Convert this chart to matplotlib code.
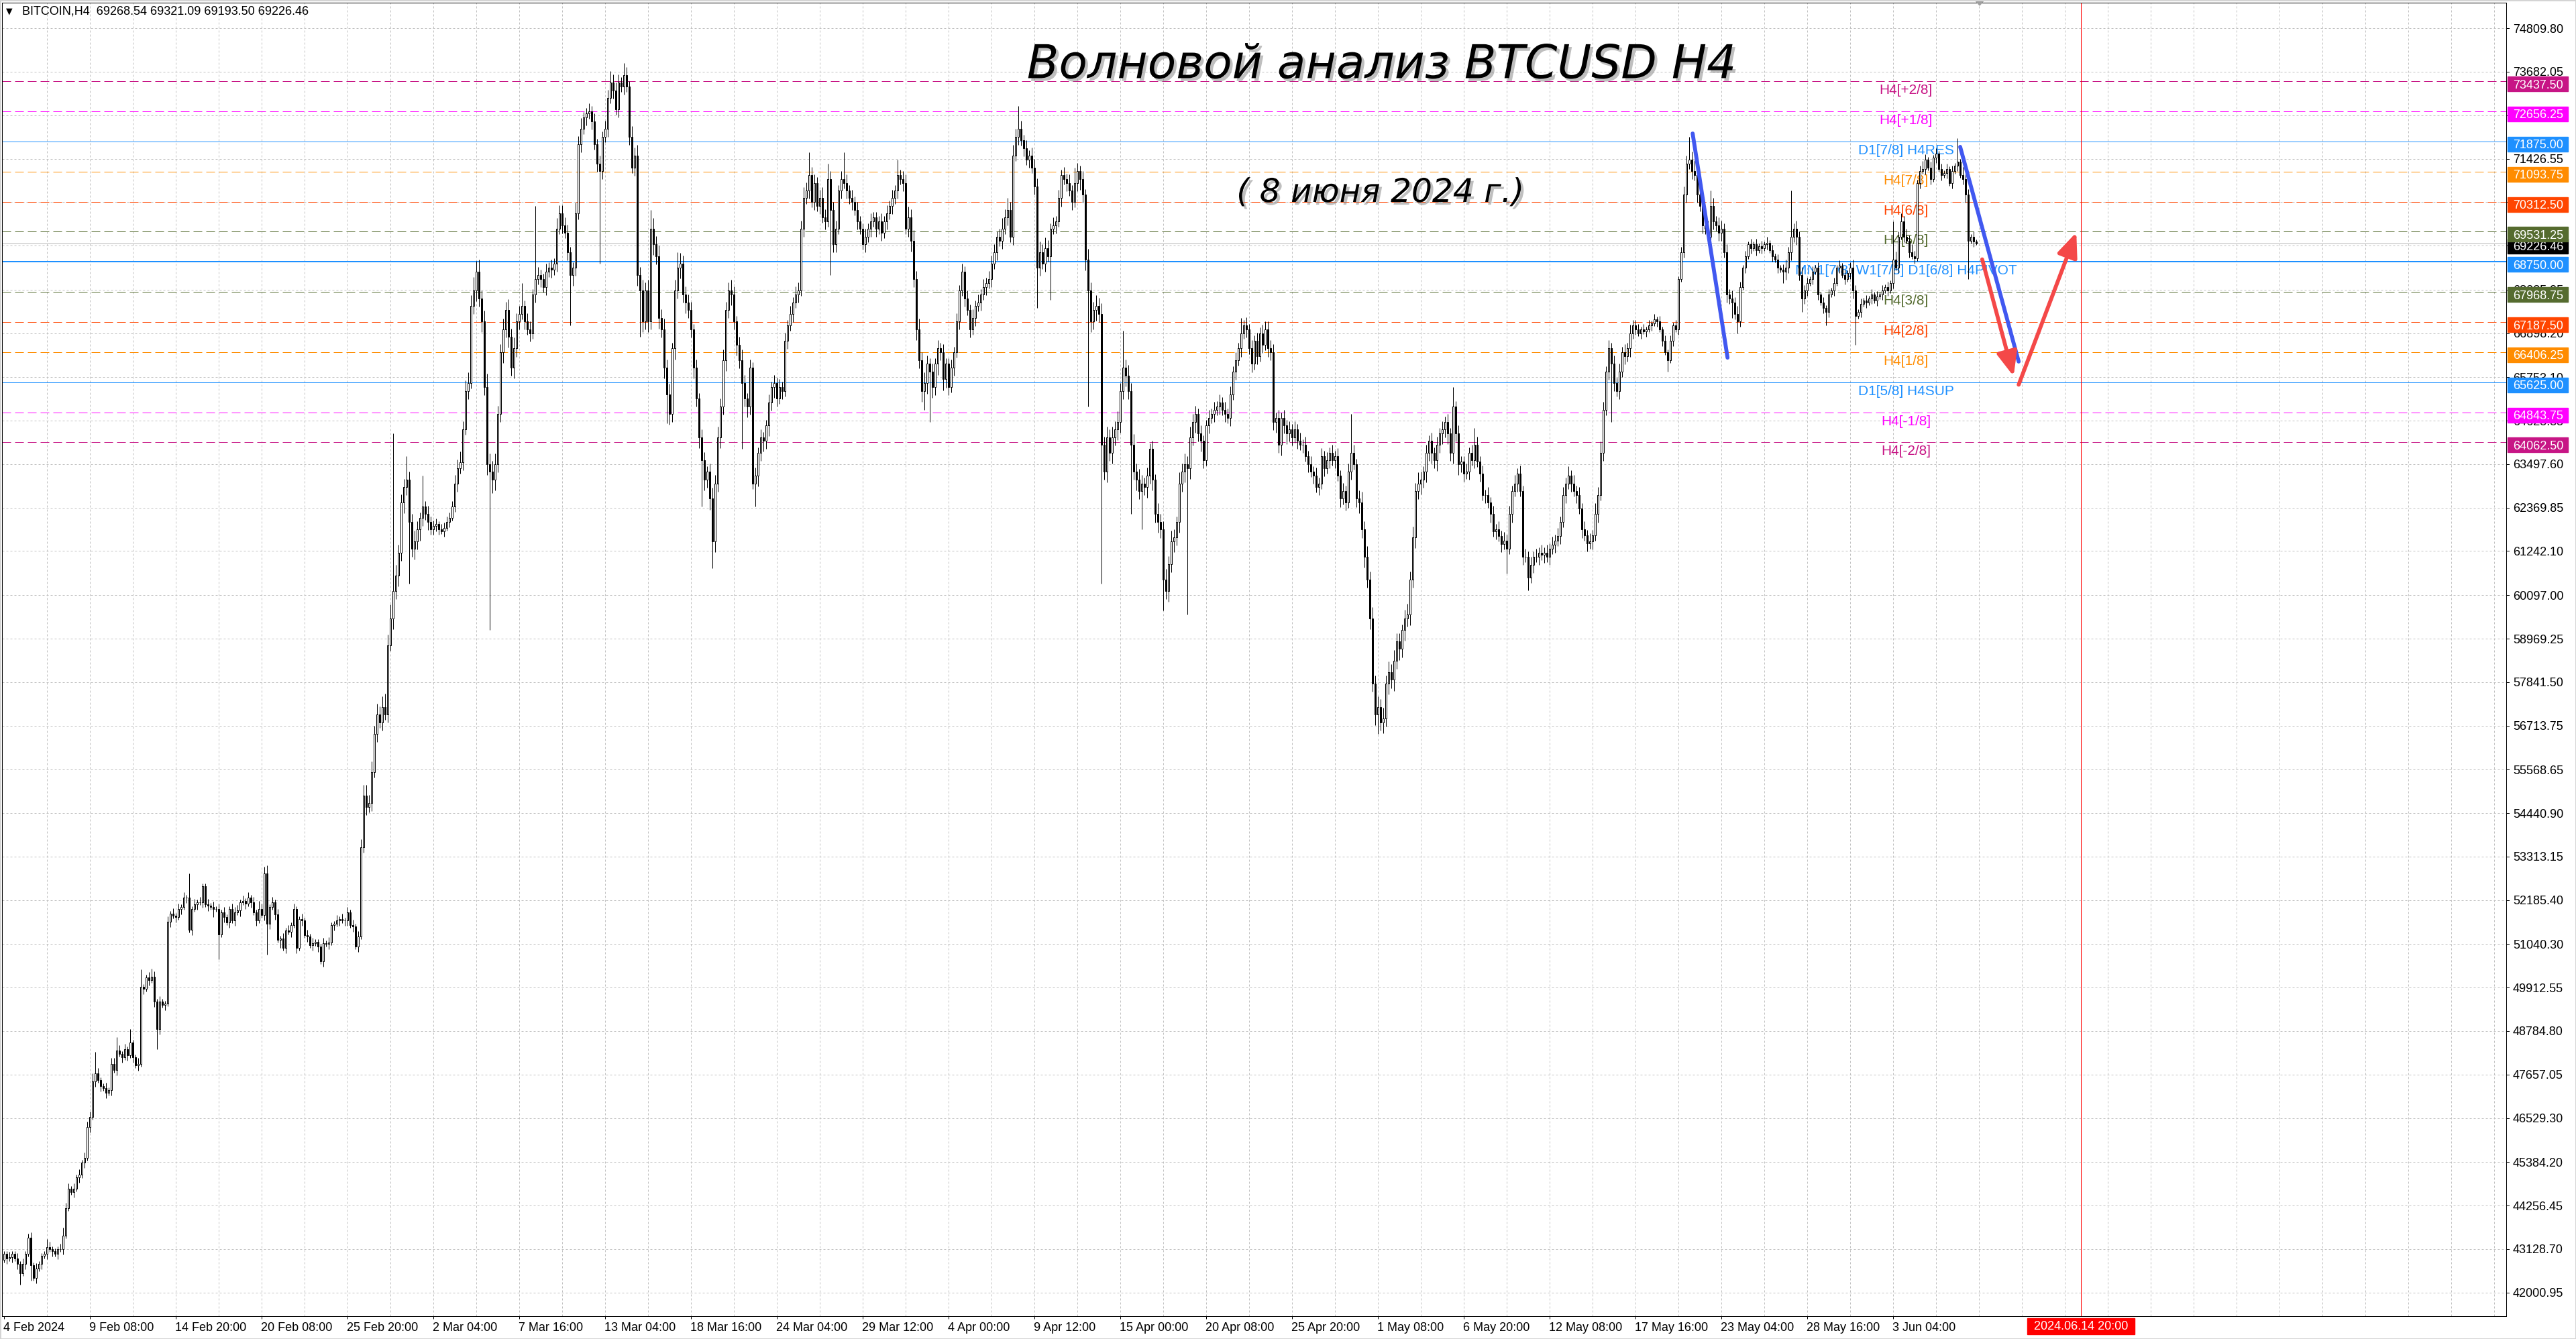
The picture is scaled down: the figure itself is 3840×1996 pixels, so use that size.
import matplotlib
matplotlib.use("Agg")
import matplotlib.pyplot as plt
import matplotlib.patheffects as pe
from matplotlib.patches import Rectangle, Polygon
import numpy as np

W, H, DPI = 3840, 1996, 100
PX = 72 / DPI  # one pixel in points

plt.rcParams["lines.scale_dashes"] = False
plt.rcParams["font.family"] = ["Liberation Sans", "DejaVu Sans"]

# ---------------- data ----------------
HEADER = "BITCOIN,H4  69268.54 69321.09 69193.50 69226.46"
TITLE = "Волновой анализ BTCUSD H4"
SUBTITLE = "( 8 июня 2024 г.)"

FIRST_OPEN_X10 = 4285
LAST_BAR = (69268.54, 69321.09, 69193.50, 69226.46)  # O H L C of last candle

# H4 closes, units of 10 USD, 32 bars per time label
CLOSE_X10 = [
    4300, 4288, 4292, 4300, 4288, 4275, 4250, 4275, 4300, 4343, 4271, 4237, 4262, 4275, 4296, 4300,
    4317, 4313, 4308, 4300, 4313, 4313, 4347, 4419, 4469, 4461, 4469, 4499, 4505, 4537, 4550, 4630,
    4655, 4748, 4769, 4752, 4735, 4731, 4718, 4725, 4794, 4777, 4828, 4820, 4811, 4832, 4815, 4849,
    4811, 4790, 4794, 4993, 4988, 5018, 5010, 5020, 4955, 4883, 4955, 4946, 4950, 5162, 5183, 5178,
    5174, 5195, 5200, 5225, 5225, 5141, 5195, 5208, 5212, 5212, 5254, 5208, 5204, 5200, 5196, 5196,
    5130, 5187, 5174, 5160, 5195, 5165, 5187, 5191, 5212, 5216, 5210, 5225, 5212, 5187, 5165, 5195,
    5180, 5288, 5157, 5200, 5212, 5182, 5115, 5119, 5094, 5140, 5136, 5153, 5195, 5094, 5170, 5165,
    5128, 5124, 5102, 5106, 5110, 5098, 5060, 5106, 5104, 5108, 5153, 5157, 5165, 5170, 5166, 5165,
    5187, 5153, 5150, 5098, 5124, 5356, 5490, 5460, 5470, 5550, 5650, 5700, 5680, 5720, 5700, 5880,
    5950, 6020, 6060, 6120, 6250, 6290, 6310, 6200, 6130, 6150, 6180, 6210, 6240, 6220, 6200, 6180,
    6190, 6195, 6180, 6175, 6185, 6200, 6210, 6240, 6300, 6340, 6355, 6440, 6540, 6560, 6760, 6800,
    6850, 6780, 6720, 6550, 6350, 6330, 6310, 6350, 6480, 6640, 6700, 6750, 6680, 6600, 6650, 6720,
    6740, 6760, 6720, 6700, 6690, 6790, 6830, 6840, 6830, 6810, 6850, 6860, 6855, 6870, 6960, 7000,
    6970, 6950, 6900, 6840, 6860, 7000, 7180, 7220, 7250, 7260, 7265, 7240, 7180, 7130, 7110, 7200,
    7220, 7300, 7340, 7320, 7270, 7340, 7330, 7360, 7330, 7200, 7120, 7150, 6840, 6800, 6720, 6800,
    6720, 6960, 6920, 6890, 6730, 6700, 6600, 6530, 6480, 6650, 6800, 6860, 6870, 6790, 6770, 6750,
    6700, 6600, 6520, 6420, 6360, 6310, 6330, 6260, 6150, 6300, 6420, 6500, 6620, 6750, 6800, 6790,
    6720, 6660, 6620, 6560, 6520, 6500, 6600, 6300, 6320, 6380, 6420, 6410, 6450, 6510, 6550, 6560,
    6520, 6550, 6540, 6670, 6710, 6740, 6770, 6790, 6800, 6960, 7040, 7060, 7100, 7030, 7080, 7020,
    7040, 6990, 6980, 7090, 7010, 6920, 6960, 7060, 7090, 7080, 7060, 7040, 7030, 7010, 6980, 6960,
    6920, 6940, 6960, 6980, 6990, 6960, 6980, 6950, 6980, 7000, 7020, 7040, 7060, 7100, 7090, 7080,
    6960, 6990, 6930, 6830, 6700, 6620, 6540, 6560, 6610, 6590, 6550, 6610, 6650, 6640, 6570, 6610,
    6550, 6600, 6640, 6720, 6800, 6850, 6780, 6750, 6700, 6730, 6760, 6770, 6790, 6810, 6820, 6830,
    6870, 6900, 6940, 6930, 6960, 6990, 7010, 6940, 7150, 7200, 7220, 7190, 7170, 7140, 7150, 7120,
    7070, 6860, 6900, 6870, 6910, 6890, 6960, 6970, 6980, 7040, 7100, 7090, 7080, 7060, 7030, 7080,
    7110, 7090, 7050, 6880, 6800, 6720, 6750, 6760, 6740, 6400, 6330, 6420, 6380, 6420, 6440, 6460,
    6540, 6600, 6580, 6540, 6400, 6330, 6310, 6280, 6300, 6290, 6320, 6390, 6310, 6220, 6200, 6180,
    6050, 6020, 6090, 6150, 6160, 6200, 6300, 6330, 6350, 6340, 6420, 6460, 6480, 6430, 6410, 6360,
    6450, 6470, 6480, 6490, 6500, 6510, 6490, 6480, 6470, 6530, 6590, 6620, 6650, 6690, 6710, 6700,
    6650, 6610, 6670, 6630, 6690, 6660, 6700, 6650, 6640, 6460, 6470, 6400, 6470, 6450, 6430, 6440,
    6420, 6440, 6410, 6400, 6400, 6370, 6350, 6330, 6320, 6290, 6300, 6370, 6340, 6360, 6380, 6360,
    6370, 6320, 6260, 6280, 6250, 6330, 6380, 6350, 6260, 6250, 6180, 6110, 6050, 5950, 5780, 5700,
    5720, 5680, 5690, 5780, 5810, 5790, 5840, 5890, 5870, 5920, 5950, 5960, 6050, 6160, 6280, 6300,
    6310, 6330, 6380, 6410, 6380, 6360, 6400, 6430, 6440, 6460, 6430, 6380, 6500, 6430, 6350, 6357,
    6325, 6330, 6380, 6360, 6400, 6357, 6325, 6270, 6270, 6250, 6220, 6175, 6180, 6163, 6142, 6152,
    6130, 6220, 6280, 6300, 6325, 6280, 6110, 6110, 6055, 6088, 6110, 6110, 6120, 6115, 6120, 6110,
    6130, 6140, 6152, 6163, 6200, 6270, 6300, 6320, 6300, 6280, 6270, 6235, 6180, 6165, 6145, 6150,
    6165, 6220, 6270, 6380, 6490, 6590, 6650, 6610, 6560, 6540, 6590, 6640, 6630, 6650, 6690, 6710,
    6700, 6690, 6700, 6695, 6700, 6710, 6715, 6725, 6720, 6700, 6670, 6640, 6620, 6670, 6710, 6700,
    6830, 6900, 7050, 7130, 7140, 7110, 7100, 7050, 7020, 6970, 6960, 6940, 7020, 6980, 6970, 6950,
    6960, 6900, 6790, 6780, 6770, 6740, 6720, 6810, 6860, 6890, 6920, 6910, 6920, 6905, 6915, 6910,
    6920, 6925, 6905, 6890, 6880, 6860, 6855, 6850, 6860, 6900, 6940, 6960, 6940, 6840, 6780, 6800,
    6820, 6830, 6850, 6860, 6790, 6770, 6755, 6745, 6790, 6800, 6820, 6860, 6865, 6840, 6830, 6845,
    6860, 6800, 6735, 6745, 6765, 6775, 6770, 6780, 6790, 6775, 6785, 6790, 6800, 6810, 6800, 6820,
    6880, 6860, 6940, 6980, 6940, 6930, 6900, 6890, 6885, 7080, 7110, 7115, 7140, 7120, 7090, 7145,
    7155, 7115, 7100, 7105, 7115, 7080, 7110, 7125, 7135, 7100, 7090, 7050, 6930, 6940, 6927, 6923,
]

# upper / lower shadow length per bar, one digit = 70 USD
WICK_UP = [
    "11211212 11212111 12111232 21212122", "23121121 22121212 11221123 21211212",
    "12121312 12112121 21211222 12121213", "21312121 21212112 12121112 12112121",
    "21212344 34343454 54433323 34323232", "22122222 33434445 44345444 33434343",
    "33233243 22323243 33322434 22323232", "33433323 32434343 43434343 42434333",
    "32323323 43434334 32343232 32322323", "23232323 33434332 34323332 32323232",
    "23232223 23232323 34343434 32323232", "23232323 23232323 33234343 43332323",
    "33434323 23232323 32324334 34343434", "34343434 32323243 34343243 43433232",
    "23232323 23232323 23232333 33232323", "23232323 23232323 23232323 23434343",
    "43434343 32343434 32323232 32323232", "23232323 23232323 23232323 23232323",
    "23232323 23232323 24343232 32323232", "22121212 12121212 12334343 43232323",
    "32323232 12121212 12121212 32323232", "21212121 21212121 23212121 21212121",
    "23232323 21232121 21212121 21332121",
]
WICK_DN = [
    "12121221 21212121 21212121 11212121", "21212121 21212121 21212121 23212121",
    "21212121 21212131 21212121 21212121", "12121213 12121212 12121212 12121212",
    "21212123 23232323 24343434 34343232", "22212121 23232323 43434354 33434343",
    "32323232 32323232 32324323 23232323", "23232323 23234343 43434343 43434343",
    "34343434 34343434 34343432 34343434", "32323232 32323232 32324332 32323232",
    "23232323 23232323 23434343 43434343", "32323232 32323232 32323232 32323232",
    "32323232 32323232 34343434 34343434", "43434343 43434343 43434343 43434343",
    "23232323 23232323 23232323 33434343", "32323232 32323232 32323232 34343434",
    "43434343 43434343 43434343 43434343", "32323232 32323232 32323232 32323232",
    "32323232 32323232 32323232 32323232", "21212121 21212121 21232323 23232323",
    "32323232 12121212 12121212 32323232", "21212121 21212121 23212121 21212121",
    "21212121 21212121 21212121 21232121",
]

# long shadows that stand out (bar index -> price, units of 10 USD)
SPIKE_HIGH = {9: 4353, 16: 4338, 34: 4824, 42: 4862, 47: 4883, 51: 5039, 69: 5288, 97: 5305,
              145: 6430, 150: 6370, 156: 6320, 177: 6880, 193: 6820, 198: 7020, 226: 7370,
              231: 7390, 241: 7010, 251: 6900, 300: 7160, 307: 7130, 313: 7160, 333: 7140,
              374: 7040, 378: 7280, 399: 7120, 417: 6696, 461: 6730, 502: 6480, 540: 6550,
              548: 6443, 583: 6345, 628: 7200, 636: 7060, 666: 7060, 704: 6980, 728: 7195}
SPIKE_LOW = {6: 4220, 10: 4231, 57: 4832, 80: 5064, 98: 5077, 151: 6040, 181: 5920, 211: 6710,
             222: 6870, 237: 6680, 247: 6456, 260: 6240, 264: 6080, 275: 6390, 280: 6240,
             308: 6840, 343: 6490, 345: 6460, 385: 6756, 390: 6776, 404: 6500, 409: 6040,
             420: 6220, 424: 6180, 432: 5970, 441: 5960, 512: 5650, 560: 6066, 568: 6023,
             599: 6460, 620: 6590, 644: 6730, 646: 6690, 663: 6820, 670: 6745, 679: 6710,
             690: 6660, 732: 6830}

PRICE_TICKS = [74809.80, 73682.05, 72554.30, 71426.55, 70298.80, 69171.05, 68025.95, 66898.20,
               65753.10, 64625.35, 63497.60, 62369.85, 61242.10, 60097.00, 58969.25, 57841.50,
               56713.75, 55568.65, 54440.90, 53313.15, 52185.40, 51040.30, 49912.55, 48784.80,
               47657.05, 46529.30, 45384.20, 44256.45, 43128.70, 42000.95]

TIME_LABELS = ["4 Feb 2024", "9 Feb 08:00", "14 Feb 20:00", "20 Feb 08:00", "25 Feb 20:00",
               "2 Mar 04:00", "7 Mar 16:00", "13 Mar 04:00", "18 Mar 16:00", "24 Mar 04:00",
               "29 Mar 12:00", "4 Apr 00:00", "9 Apr 12:00", "15 Apr 00:00", "20 Apr 08:00",
               "25 Apr 20:00", "1 May 08:00", "6 May 20:00", "12 May 08:00", "17 May 16:00",
               "23 May 04:00", "28 May 16:00", "3 Jun 04:00"]
BARS_PER_LABEL = 32

LEVEL_PRICES = [73437.50, 72656.25, 71875.00, 71093.75, 70312.50, 69531.25, 68750.00,
                67968.75, 67187.50, 66406.25, 65625.00, 64843.75, 64062.50]
LEVEL_NAMES = ["H4[+2/8]", "H4[+1/8]", "D1[7/8] H4RES", "H4[7/8]", "H4[6/8]", "H4[5/8]",
               "MN1[7/8] W1[7/8] D1[6/8] H4PIVOT", "H4[3/8]", "H4[2/8]", "H4[1/8]",
               "D1[5/8] H4SUP", "H4[-1/8]", "H4[-2/8]"]

VLINE_BAR = 774
VLINE_LABEL = "2024.06.14 20:00"

# analyst drawings in (bar, price)
BLUE_LINES = [((629.3, 72080), (642.3, 66262)), ((729.0, 71733), (750.8, 66161))]
RED_ARROWS = [((737.2, 68813), (748.9, 65781)), ((750.8, 65561), (772.3, 69513))]

# ---------------- styles ----------------
LEVEL_COLORS = ["#C71585", "#FF00FF", "#1E90FF", "#FF8C00", "#FF4500", "#556B2F", "#1E90FF",
                "#556B2F", "#FF4500", "#FF8C00", "#1E90FF", "#FF00FF", "#C71585"]
LEVEL_SOLID = [False, False, True, False, False, False, True, False, False, False, True, False, False]
GRID_C = "#C0C0C0"
BLUE = "#4158F0"
RED = "#F44848"
GRID_DASH = (3 * PX, 3 * PX)
LEVEL_DASH = (13 * PX, 6 * PX)

AX_L, AX_R, AX_T, AX_B = 3, 3736, 4, 1962
YMIN, YMAX = 41385, 75475
XMIN, XMAX = -0.75, (AX_R - 6) / 4


def fx(x):
    return x / W


def fy(y):
    return 1 - y / H


# ---------------- candles ----------------
closes = np.array(CLOSE_X10, dtype=float) * 10
n = len(closes)
opens = np.r_[FIRST_OPEN_X10 * 10, closes[:-1]]
opens[-1], closes[-1] = LAST_BAR[0], LAST_BAR[3]
up = np.array([int(c) for s in WICK_UP for c in s.replace(" ", "")], dtype=float)[:n] * 70
dn = np.array([int(c) for s in WICK_DN for c in s.replace(" ", "")], dtype=float)[:n] * 70
highs = np.maximum(opens, closes) + up
lows = np.minimum(opens, closes) - dn
for i, v in SPIKE_HIGH.items():
    highs[i] = max(highs[i], v * 10)
for i, v in SPIKE_LOW.items():
    lows[i] = min(lows[i], v * 10)
highs[-1], lows[-1] = LAST_BAR[1], LAST_BAR[2]
idx = np.arange(n)

fig = plt.figure(figsize=(W / DPI, H / DPI), dpi=DPI, facecolor="white")
ax = fig.add_axes([fx(AX_L), fy(AX_B), fx(AX_R - AX_L), (AX_B - AX_T) / H])
ax.set_facecolor("white")

for p in PRICE_TICKS:
    ax.axhline(p, color=GRID_C, lw=PX, dashes=GRID_DASH, zorder=0.5)
for b in range(16, int(XMAX) + 1, 16):
    ax.axvline(b, color=GRID_C, lw=PX, dashes=GRID_DASH, zorder=0.5)

for p, c, solid, name in zip(LEVEL_PRICES, LEVEL_COLORS, LEVEL_SOLID, LEVEL_NAMES):
    lw = 2 * PX if "PIVOT" in name else PX
    if solid:
        ax.axhline(p, color=c, lw=lw, zorder=1)
    else:
        ax.axhline(p, color=c, lw=lw, dashes=LEVEL_DASH, zorder=1)
    ax.annotate(name, xy=(708.75, p), xytext=(0, -4), textcoords="offset pixels",
                ha="center", va="top", color=c, fontsize=15, zorder=2)

ax.axhline(LAST_BAR[3], color="#B4B4B4", lw=PX, zorder=1)
ax.axvline(VLINE_BAR, color="red", lw=PX, zorder=1.2)

ax.vlines(idx, lows, highs, color="black", lw=PX, zorder=3)
bull = closes >= opens
ax.bar(idx, np.abs(closes - opens), bottom=np.minimum(opens, closes), width=0.72,
       color=np.where(bull, "white", "black"), edgecolor="black", linewidth=PX, zorder=4)

for (x0, y0), (x1, y1) in BLUE_LINES:
    ax.plot([x0, x1], [y0, y1], color=BLUE, lw=4.2, solid_capstyle="round", zorder=6)
for (x0, y0), (x1, y1) in RED_ARROWS:
    ax.annotate("", xy=(x1, y1), xytext=(x0, y0),
                arrowprops=dict(arrowstyle="-|>,head_length=1.0,head_width=0.42", color=RED,
                                lw=4.2, mutation_scale=22, shrinkA=0, shrinkB=0,
                                capstyle="round"), zorder=6)

ax.set_xlim(XMIN, XMAX)
ax.set_ylim(YMIN, YMAX)
ax.set_yticks([])
ax.set_xticks(np.arange(len(TIME_LABELS)) * BARS_PER_LABEL)
ax.tick_params(axis="x", direction="out", length=4 * PX, width=PX, labelbottom=False)
for s in ax.spines.values():
    s.set_color("black")
    s.set_linewidth(PX)

for k, lab in enumerate(TIME_LABELS):
    ax.annotate(lab, xy=(k * BARS_PER_LABEL, 0), xycoords=("data", "axes fraction"),
                xytext=(-1, -17), textcoords="offset pixels", ha="left", va="center",
                fontsize=13, annotation_clip=False)

# red date tag under the vertical line
vx = 6 + 4 * VLINE_BAR
fig.add_artist(Rectangle((fx(vx - 80), fy(1989)), 160 / W, 24 / H, transform=fig.transFigure,
                         color="#FF0000", zorder=5))
fig.text(fx(vx), fy(1977), VLINE_LABEL, ha="center", va="center", color="white", fontsize=13,
         zorder=6)

# ---------------- price scale ----------------
axr = fig.add_axes([fx(AX_R), fy(AX_B), fx(W - AX_R), (AX_B - AX_T) / H])
axr.set_xlim(0, W - AX_R)
axr.set_ylim(YMIN, YMAX)
axr.axis("off")
ppu = (AX_B - AX_T) / (YMAX - YMIN)
box_h = 22 / ppu
half_digit = 6.5 / ppu   # half the height of a digit, so the baseline can be placed
box_shift = 4 / ppu      # MT4 draws the coloured tags a few pixels below their level
for p in PRICE_TICKS:
    axr.plot([0, 4], [p, p], color="black", lw=PX, zorder=1)
    axr.text(10, p - half_digit, f"{p:.2f}", ha="left", va="baseline", fontsize=13, zorder=1)


def price_tag(p, color, z):
    yc = p - box_shift
    axr.add_patch(Rectangle((2, yc - box_h / 2), 90, box_h, color=color, zorder=z))
    axr.text(10, yc - half_digit, f"{p:.2f}", ha="left", va="baseline", fontsize=13,
             color="white", zorder=z + 0.5)


price_tag(LAST_BAR[3], "black", 2)
for p, c in zip(LEVEL_PRICES, LEVEL_COLORS):
    price_tag(p, c, 4)

# ---------------- header & titles ----------------
fig.text(fx(9), fy(17), "▼", fontsize=9, va="center", family=["DejaVu Sans"])
fig.text(fx(33), fy(17), HEADER, fontsize=13, va="center")

shadow = [pe.SimplePatchShadow(offset=(3, -3), shadow_rgbFace="#808080", alpha=0.5), pe.Normal()]
fig.text(fx(2060), fy(97), TITLE, fontsize=50, family=["DejaVu Sans"], style="italic",
         ha="center", va="center", path_effects=shadow)
fig.text(fx(2058), fy(287), SUBTITLE, fontsize=35, family=["DejaVu Sans"], style="italic",
         ha="center", va="center", path_effects=shadow)

# chart-shift marker and window border
fig.add_artist(Polygon([[fx(2944), fy(0)], [fx(2958), fy(0)], [fx(2951), fy(8)]],
                       closed=True, transform=fig.transFigure, color="#A0A0A0"))
fig.add_artist(Rectangle((0, 0), 1, 1, transform=fig.transFigure, fill=False,
                         ec="#D4D4D4", lw=3 * PX))

fig.savefig("out.png", dpi=DPI, facecolor="white")
